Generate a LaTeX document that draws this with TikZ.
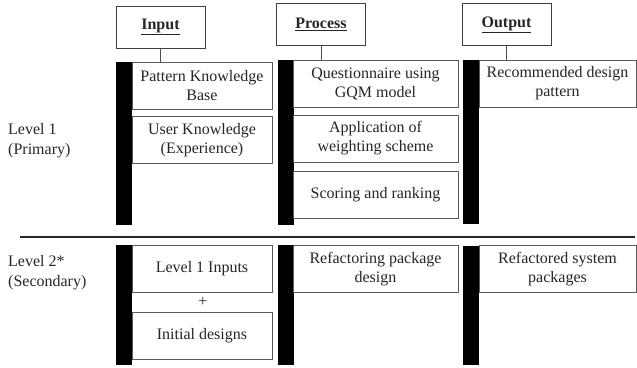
\documentclass[tikz,border=0pt]{standalone}
\usepackage{fontspec}
\setmainfont{Liberation Serif}
\usepackage{tikz}
\usetikzlibrary{calc,positioning}
\tikzset{
myHead/.style={
	rectangle,draw=black!75,thick,fill=white,
	inner sep=0pt,minimum width=89pt,minimum height=42pt,
	font=\fontsize{16}{19}\selectfont\bfseries,text=black!85
}
, myBox/.style={
	rectangle,draw=black!65,line width=0.9pt,fill=white,
	inner sep=0pt,minimum height=47pt,align=center,
	font=\fontsize{16}{19}\selectfont,text=black!85
}
, myBar/.style={
	rectangle,fill=black,draw=none,
	inner sep=0pt,minimum width=16pt
}
, myLevel/.style={
	anchor=north west,inner sep=0pt,align=left,
	font=\fontsize{16}{20}\selectfont,text=black!85
}
% link
, myTick/.style={draw=black!70,thick}
}

\begin{document}
\begin{tikzpicture}[x=1pt,y=-1pt]
	\useasboundingbox (0,0) rectangle (637,367);
	% headers
	\node[myHead] (HIn)  at (160.5,27)  {\underline{Input}};
	\node[myHead] (HPro) at (321,24.5)  {\underline{Process}};
	\node[myHead] (HOut) at (506.5,24.5) {\underline{Output}};

	% bars level 1
	\node[myBar,minimum height=163pt] (BarIn1)  at (124,143.5) {};
	\node[myBar,minimum height=165pt] (BarPro1) at (285.5,142.5) {};
	\node[myBar,minimum height=164pt] (BarOut1) at (471,142) {};
	% bars level 2
	\node[myBar,minimum height=120pt] (BarIn2)  at (124,305) {};
	\node[myBar,minimum height=120pt] (BarPro2) at (285.5,305) {};
	\node[myBar,minimum height=119pt] (BarOut2) at (471,305.5) {};

	% level 1 boxes
	\node[myBox,minimum width=140pt] (PKB) at (202,85.5)  {Pattern Knowledge\\Base};
	\node[myBox,minimum width=140pt] (UK)  at (202,140)   {User Knowledge\\(Experience)};
	\node[myBox,minimum width=165pt] (GQM) at (375.5,83.5) {Questionnaire using\\GQM model};
	\node[myBox,minimum width=165pt] (AWS) at (375.5,138.5) {Application of\\weighting scheme};
	\node[myBox,minimum width=165pt] (SR)  at (375.5,194.5) {Scoring and ranking};
	\node[myBox,minimum width=157pt] (RDP) at (557.5,83.5) {Recommended design\\pattern};

	% level 2 boxes
	\node[myBox,minimum width=140pt] (L1I) at (202,269)   {Level 1 Inputs};
	\node[myBox,minimum width=140pt] (ID)  at (202,335.5) {Initial designs};
	\node[myBox,draw=none,fill=none] (Plus) at (203,302)  {+};
	\node[myBox,minimum width=165pt] (RPD) at (375.5,269) {Refactoring package\\design};
	\node[myBox,minimum width=157pt] (RSP) at (557.5,269) {Refactored system\\packages};

	% levels
	\node[myLevel] (Lev1) at (8,123)  {Level 1\\(Primary)};
	\node[myLevel] (Lev2) at (8,255)  {Level 2*\\(Secondary)};

	% links
	\draw[myTick] (HIn.south)  -- (HIn.south |- PKB.north);
	\draw[myTick] (HPro.south) -- (HPro.south |- GQM.north);
	\draw[myTick] (HOut.south) -- (HOut.south |- RDP.north);

	% separator
	\coordinate (SepL) at (20,237);
	\coordinate (SepR) at (635,237);
	\draw[black!85,line width=1.6pt] (SepL) -- (SepR);
\end{tikzpicture}
\end{document}
